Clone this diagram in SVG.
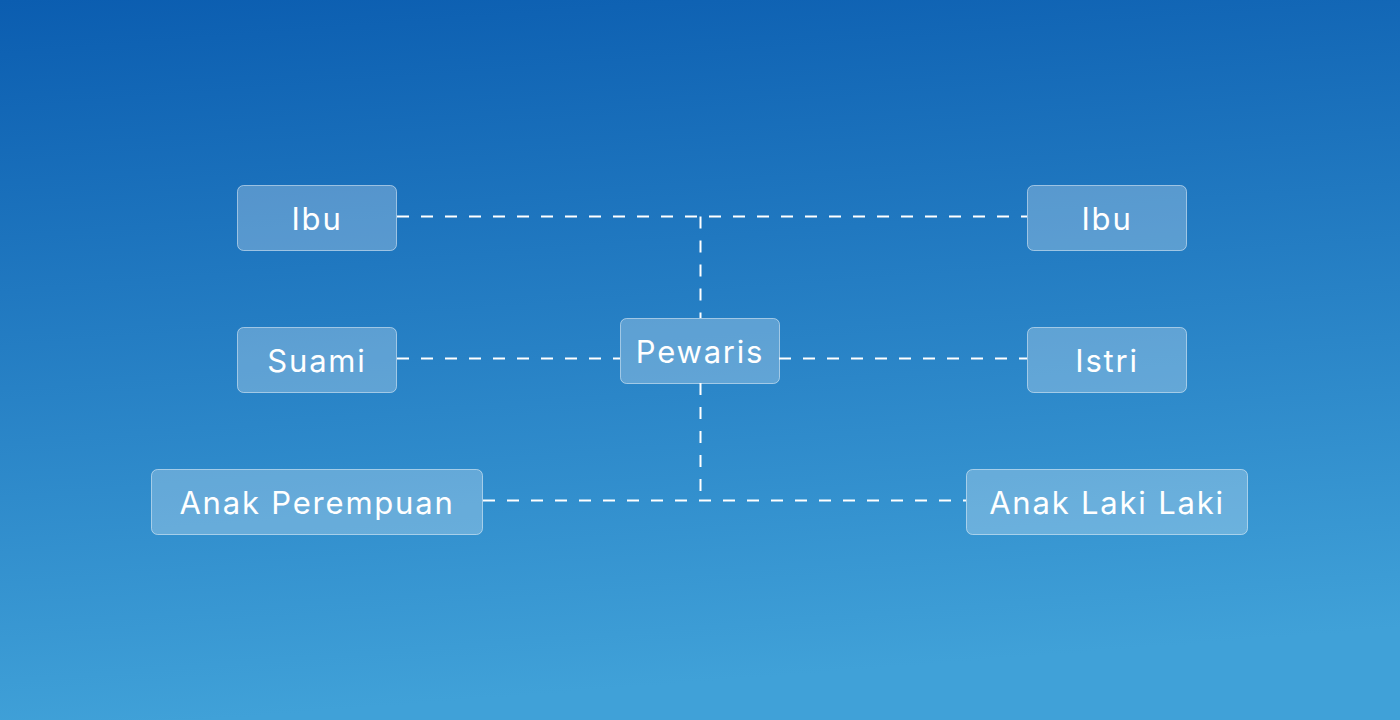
<svg xmlns="http://www.w3.org/2000/svg" width="1400" height="720" viewBox="0 0 1400 720">
<defs>
<linearGradient id="bg" x1="0" y1="0" x2="0.15" y2="1">
<stop offset="0" stop-color="#0B5DB0"/>
<stop offset="1" stop-color="#40A1D8"/>
</linearGradient>
<style>
.node rect{fill:#ffffff;fill-opacity:0.26;stroke:#ffffff;stroke-opacity:0.5;stroke-width:1}
.node text{fill:#ffffff;font-family:Inter,"Open Sans","Liberation Sans",sans-serif;font-size:31px;letter-spacing:1.8px;text-anchor:middle;dominant-baseline:central}
#connectors path{fill:none;stroke:#ffffff;stroke-width:2;stroke-dasharray:12 12}
</style>
</defs>
<rect width="1400" height="720" fill="url(#bg)"/>
<g id="connectors">
<path d="M397 216.5H1027"/>
<path d="M700.5 216.5V318"/>
<path d="M397 358.5H620"/>
<path d="M779 358.5H1027"/>
<path d="M700.5 383V500.5"/>
<path d="M483 500.5H966"/>
</g>
<g id="ibu-left" class="node"><rect x="237.5" y="185.5" width="159" height="65" rx="6"/><text x="317" y="218">Ibu</text></g>
<g id="ibu-right" class="node"><rect x="1027.5" y="185.5" width="159" height="65" rx="6"/><text x="1107" y="218">Ibu</text></g>
<g id="suami" class="node"><rect x="237.5" y="327.5" width="159" height="65" rx="6"/><text x="317" y="360">Suami</text></g>
<g id="istri" class="node"><rect x="1027.5" y="327.5" width="159" height="65" rx="6"/><text x="1107" y="360">Istri</text></g>
<g id="pewaris" class="node"><rect x="620.5" y="318.5" width="159" height="65" rx="6"/><text x="700" y="351">Pewaris</text></g>
<g id="anak-perempuan" class="node"><rect x="151.5" y="469.5" width="331" height="65" rx="6"/><text x="317" y="502">Anak Perempuan</text></g>
<g id="anak-laki" class="node"><rect x="966.5" y="469.5" width="281" height="65" rx="6"/><text x="1107" y="502">Anak Laki Laki</text></g>
</svg>
